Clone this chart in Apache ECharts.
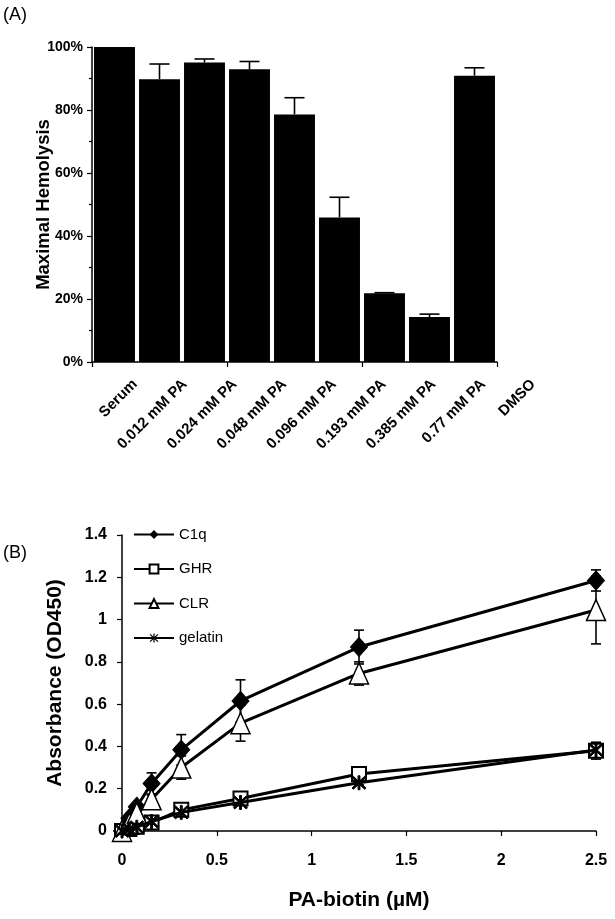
<!DOCTYPE html>
<html>
<head>
<meta charset="utf-8">
<script src="https://cdn.jsdelivr.net/npm/echarts@6/dist/echarts.min.js"></script>
<style>
html,body{margin:0;padding:0;background:#fff;}
#c{width:615px;height:919px;}
</style>
</head>
<body>
<div id="c"></div>
<script>
// Panel A data
const categoriesA = ['Serum','0.012 mM PA','0.024 mM PA','0.048 mM PA','0.096 mM PA','0.193 mM PA','0.385 mM PA','0.77 mM PA','DMSO'];
const hemolysis = [100, 89.8, 95.1, 92.9, 78.6, 45.9, 21.8, 14.3, 90.9];
const hemolysisErr = [0, 4.8, 1.1, 2.5, 5.3, 6.4, 0.2, 0.9, 2.5];

// Panel B data
const concentrations = [0, 0.039, 0.078, 0.156, 0.3125, 0.625, 1.25, 2.5];
const c1q = [0, 0.06, 0.115, 0.225, 0.384, 0.615, 0.87, 1.185];
const c1qErr = [0, 0, 0.01, 0.05, 0.072, 0.1, 0.08, 0.05];
const ghr = [0, 0.01, 0.02, 0.04, 0.1, 0.154, 0.27, 0.38];
const ghrErr = [0, 0, 0, 0.01, 0.01, 0.01, 0.01, 0.04];
const clr = [0, 0.035, 0.085, 0.15, 0.3, 0.51, 0.745, 1.045];
const clrErr = [0, 0, 0.01, 0.02, 0.055, 0.085, 0.055, 0.16];
const gelatin = [0, 0.008, 0.018, 0.045, 0.088, 0.135, 0.228, 0.383];
const gelatinErr = [0, 0, 0, 0.01, 0.01, 0.01, 0.01, 0.03];

const FONT = 'Liberation Sans, Arial, sans-serif';
const chart = echarts.init(document.getElementById('c'), null, {renderer: 'canvas'});

function pairs(xs, ys) { return xs.map((x, i) => [x, ys[i]]); }
function errData(xs, ys, es) { return xs.map((x, i) => [x, ys[i], es[i]]); }

function errorRenderer(capHalf, upOnly) {
  return function (params, api) {
    const x = api.value(0), y = api.value(1), e = api.value(2);
    if (!e) return null;
    const top = api.coord([x, y + e]);
    const bot = api.coord([x, upOnly ? y : y - e]);
    const style = {stroke: '#000', lineWidth: 1.6, fill: null};
    const children = [
      {type: 'line', shape: {x1: top[0], y1: top[1], x2: bot[0], y2: bot[1]}, style: style},
      {type: 'line', shape: {x1: top[0] - capHalf, y1: top[1], x2: top[0] + capHalf, y2: top[1]}, style: style}
    ];
    if (!upOnly) children.push({type: 'line', shape: {x1: bot[0] - capHalf, y1: bot[1], x2: bot[0] + capHalf, y2: bot[1]}, style: style});
    return {type: 'group', children: children};
  };
}

const asterisk = 'path://M-1,-8L1,-8L1,8L-1,8Z M-7.4,-6L-6,-7.4L7.4,6L6,7.4Z M-7.4,6L-6,7.4L7.4,-6L6,-7.4Z';

const axisLineStyle = {color: '#000', width: 1.5};

const option = {
  backgroundColor: '#fff',
  animation: false,
  graphic: [
    {type: 'text', left: 3, top: 6, style: {text: '(A)', font: '18px ' + FONT, fill: '#000'}},
    {type: 'text', left: 3, top: 544, style: {text: '(B)', font: '18px ' + FONT, fill: '#000'}}
  ],
  legend: {
    data: ['C1q', 'GHR', 'CLR', 'gelatin'],
    orient: 'vertical',
    left: 128,
    top: 522,
    itemWidth: 40,
    itemHeight: 11,
    itemGap: 19.5,
    textStyle: {fontFamily: FONT, fontSize: 15, color: '#000'},
    inactiveColor: '#000'
  },
  grid: [
    {left: 92, width: 405, top: 47, height: 315},
    {left: 110, width: 448, top: 47, height: 315},
    {left: 122, width: 474, top: 535, height: 296}
  ],
  xAxis: [
    {
      type: 'category', gridIndex: 0, data: categoriesA,
      axisLine: {lineStyle: axisLineStyle},
      axisTick: {show: true, length: 5, lineStyle: {color: '#000', width: 1.2}},
      axisLabel: {show: false}
    },
    {
      type: 'category', gridIndex: 1, data: categoriesA,
      axisLine: {show: false}, axisTick: {show: false},
      axisLabel: {interval: 0, rotate: 45, margin: 20, fontFamily: FONT, fontWeight: 'bold', fontSize: 15, color: '#000'}
    },
    {
      type: 'value', gridIndex: 2, min: 0, max: 2.5, interval: 0.5,
      name: 'PA-biotin (µM)', nameLocation: 'middle', nameGap: 59,
      nameTextStyle: {fontFamily: FONT, fontWeight: 'bold', fontSize: 21, color: '#000'},
      axisLine: {lineStyle: axisLineStyle},
      axisTick: {show: true, length: 5, lineStyle: {color: '#000', width: 1.2}},
      axisLabel: {margin: 22, fontFamily: FONT, fontWeight: 'bold', fontSize: 16, color: '#000'},
      splitLine: {show: false}
    }
  ],
  yAxis: [
    {
      type: 'value', gridIndex: 0, min: 0, max: 100, interval: 20,
      name: 'Maximal Hemolysis', nameLocation: 'middle', nameGap: 39, nameMoveOverlap: false,
      nameTextStyle: {fontFamily: FONT, fontWeight: 'bold', fontSize: 18.5, color: '#000'},
      axisLine: {show: true, lineStyle: axisLineStyle},
      axisTick: {show: true, length: 5, lineStyle: {color: '#000', width: 1.2}},
      minorTick: {show: true, splitNumber: 2, length: 3, lineStyle: {color: '#000', width: 1.2}},
      axisLabel: {formatter: '{value}%', margin: 9, fontFamily: FONT, fontWeight: 'bold', fontSize: 14, color: '#000'},
      splitLine: {show: false}
    },
    {type: 'value', gridIndex: 1, show: false, min: 0, max: 100},
    {
      type: 'value', gridIndex: 2, min: 0, max: 1.4, interval: 0.2,
      name: 'Absorbance (OD450)', nameLocation: 'middle', nameGap: 56, nameMoveOverlap: false,
      nameTextStyle: {fontFamily: FONT, fontWeight: 'bold', fontSize: 21, color: '#000'},
      axisLine: {show: true, lineStyle: axisLineStyle},
      axisTick: {show: true, length: 5, lineStyle: {color: '#000', width: 1.2}},
      axisLabel: {margin: 15, fontFamily: FONT, fontWeight: 'bold', fontSize: 16, color: '#000'},
      splitLine: {show: false}
    }
  ],
  series: [
    {
      type: 'bar', xAxisIndex: 0, yAxisIndex: 0, data: hemolysis,
      barCategoryGap: '9%', itemStyle: {color: '#000'}
    },
    {
      type: 'custom', xAxisIndex: 0, yAxisIndex: 0,
      data: categoriesA.map((c, i) => [i, hemolysis[i], hemolysisErr[i]]),
      renderItem: errorRenderer(10, true), z: 5
    },
    {type: 'custom', xAxisIndex: 2, yAxisIndex: 2, data: errData(concentrations, c1q, c1qErr), renderItem: errorRenderer(5, false), z: 1, clip: false},
    {type: 'custom', xAxisIndex: 2, yAxisIndex: 2, data: errData(concentrations, clr, clrErr), renderItem: errorRenderer(5, false), z: 1, clip: false},
    {type: 'custom', xAxisIndex: 2, yAxisIndex: 2, data: errData(concentrations, ghr, ghrErr), renderItem: errorRenderer(5, false), z: 1, clip: false},
    {type: 'custom', xAxisIndex: 2, yAxisIndex: 2, data: errData(concentrations, gelatin, gelatinErr), renderItem: errorRenderer(5, false), z: 1, clip: false},
    {
      name: 'C1q', type: 'line', xAxisIndex: 2, yAxisIndex: 2, data: pairs(concentrations, c1q),
      symbol: 'diamond', symbolSize: [17, 19], clip: false, z: 3,
      lineStyle: {color: '#000', width: 3}, itemStyle: {color: '#000', borderColor: '#000'}
    },
    {
      name: 'GHR', type: 'line', xAxisIndex: 2, yAxisIndex: 2, data: pairs(concentrations, ghr),
      symbol: 'rect', symbolSize: 14, clip: false, z: 3,
      lineStyle: {color: '#000', width: 3}, itemStyle: {color: '#fff', borderColor: '#000', borderWidth: 2}
    },
    {
      name: 'CLR', type: 'line', xAxisIndex: 2, yAxisIndex: 2, data: pairs(concentrations, clr),
      symbol: 'triangle', symbolSize: [19, 21], clip: false, z: 3,
      lineStyle: {color: '#000', width: 3}, itemStyle: {color: '#fff', borderColor: '#000', borderWidth: 1.5}
    },
    {
      name: 'gelatin', type: 'line', xAxisIndex: 2, yAxisIndex: 2, data: pairs(concentrations, gelatin),
      symbol: asterisk, symbolSize: 14, clip: false, z: 4,
      lineStyle: {color: '#000', width: 3}, itemStyle: {color: '#000', borderColor: '#000'}
    }
  ]
};
chart.setOption(option);
</script>
</body>
</html>
